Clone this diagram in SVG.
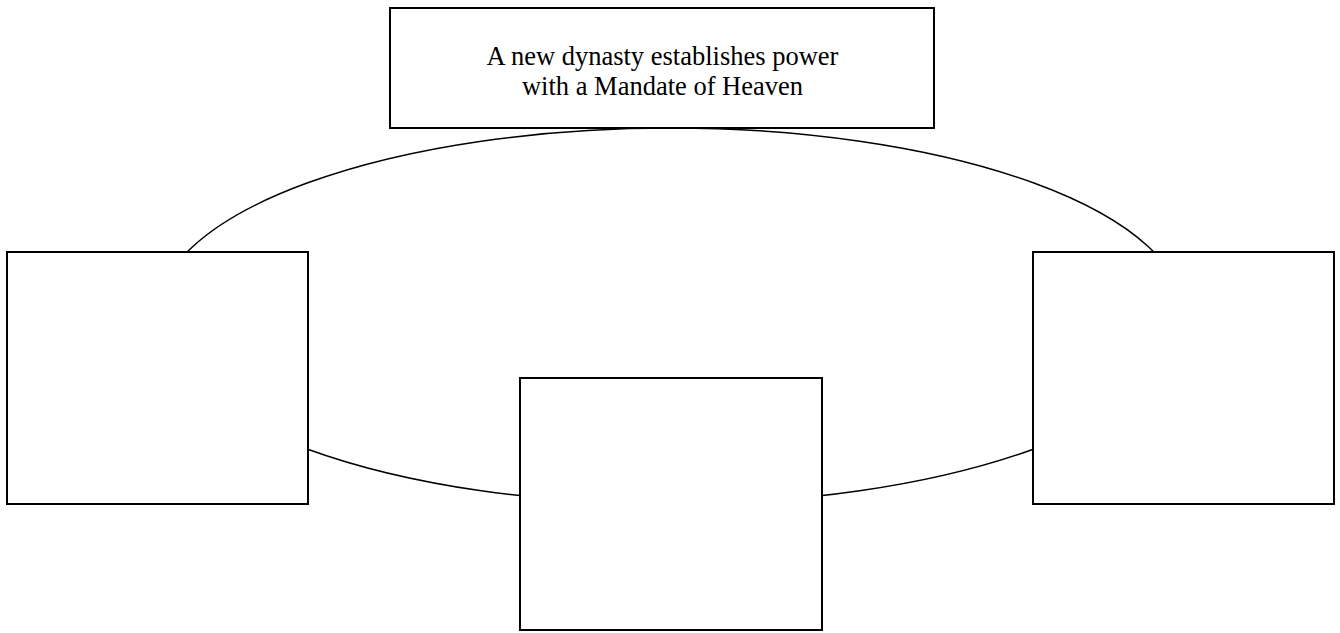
<svg xmlns="http://www.w3.org/2000/svg" width="1340" height="633" viewBox="0 0 1340 633">
<style>
.box{fill:#fff;stroke:#000;stroke-width:2}
.conn{fill:none;stroke:#000;stroke-width:1.5}
.lbl{font-family:"Liberation Serif","Times New Roman",serif;font-size:26.5px;fill:#000;text-anchor:middle}
</style>
<rect width="1340" height="633" fill="#fff"/>
<g id="connectors">
<ellipse class="conn" cx="670.5" cy="316" rx="514" ry="188"/>
</g>
<g id="node-top">
<rect class="box" x="390" y="8" width="544" height="120"/>
<text class="lbl" x="662.5" y="65">A new dynasty establishes power</text>
<text class="lbl" x="662.5" y="95">with a Mandate of Heaven</text>
</g>
<g id="node-left">
<rect class="box" x="7" y="252" width="301" height="252"/>
</g>
<g id="node-middle">
<rect class="box" x="520" y="378" width="302" height="252"/>
</g>
<g id="node-right">
<rect class="box" x="1033" y="252" width="301" height="252"/>
</g>
</svg>
